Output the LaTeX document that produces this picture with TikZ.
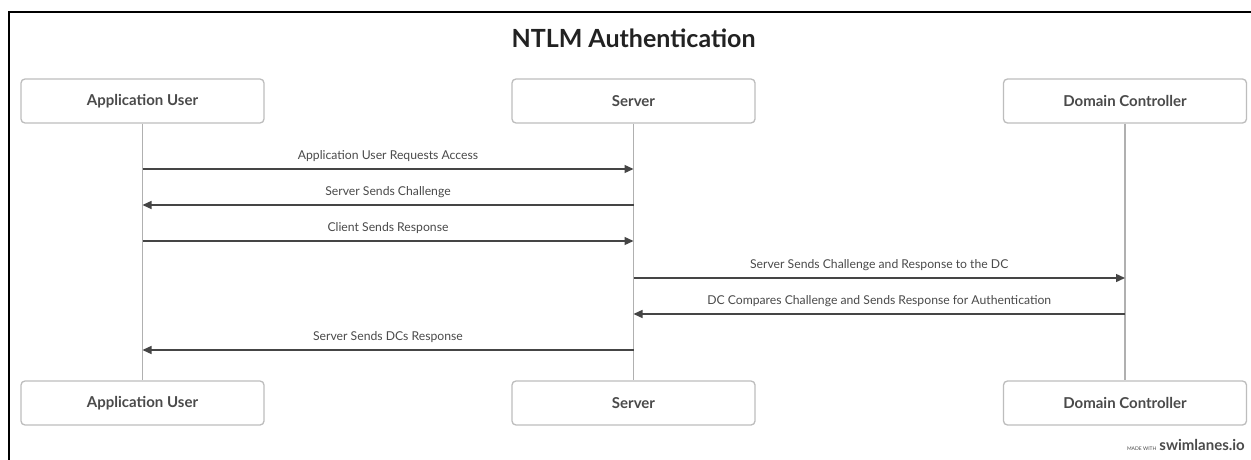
\documentclass[tikz,border=0pt]{standalone}
\usepackage{fontspec}
\setmainfont{Lato}
\usetikzlibrary{arrows.meta}
\definecolor{boxline}{HTML}{BDBDBD}
\definecolor{lifeline}{HTML}{B0B0B0}
\definecolor{msgcol}{HTML}{454545}
\definecolor{txt}{HTML}{4A4A4A}
\definecolor{titlecol}{HTML}{222222}
\tikzset{
  actor/.style={draw=boxline, line width=1.3pt, rounded corners=4pt, minimum width=243pt, minimum height=44pt, fill=white, text=txt, font=\bfseries\fontsize{15}{17}\selectfont},
  life/.style={draw=lifeline, line width=1.2pt},
  msg/.style={draw=msgcol, line width=1.4pt, -{Triangle[length=9pt,width=8pt]}},
  lbl/.style={text=txt, font=\fontsize{12.2}{14}\selectfont, anchor=base},
}
\begin{document}
\begin{tikzpicture}[x=1pt,y=-1pt]
\useasboundingbox (0,0) rectangle (1251,460);
\fill[white] (0,0) rectangle (1251,460);
\draw[black, line width=1.8pt] (9,460) -- (9,12) -- (1251,12);
% actors
\node[actor] (auT) at (142.5,101) {Application User};
\node[actor] (svT) at (633.5,101) {Server};
\node[actor] (dcT) at (1125,101) {Domain Controller};
\node[actor] (auB) at (142.5,403) {Application User};
\node[actor] (svB) at (633.5,403) {Server};
\node[actor] (dcB) at (1125,403) {Domain Controller};
\node[font=\bfseries\fontsize{25}{29}\selectfont, text=titlecol, anchor=base] (title) at (svT.center |- 0,48) {NTLM Authentication};
% lifelines
\draw[life] (auT.south) -- (auB.north);
\draw[life] (svT.south) -- (svB.north);
\draw[life] (dcT.south) -- (dcB.north);
% messages
\draw[msg] (auT.south |- 0,169) -- node[lbl, above=3pt] (m1) {Application User Requests Access} (svT.south |- 0,169);
\draw[msg] (svT.south |- 0,205) -- node[lbl, above=3pt] (m2) {Server Sends Challenge} (auT.south |- 0,205);
\draw[msg] (auT.south |- 0,241) -- node[lbl, above=3pt] (m3) {Client Sends Response} (svT.south |- 0,241);
\draw[msg] (svT.south |- 0,278) -- node[lbl, above=3pt] (m4) {Server Sends Challenge and Response to the DC} (dcT.south |- 0,278);
\draw[msg] (dcT.south |- 0,314) -- node[lbl, above=3pt] (m5) {DC Compares Challenge and Sends Response for Authentication} (svT.south |- 0,314);
\draw[msg] (svT.south |- 0,350) -- node[lbl, above=3pt] (m6) {Server Sends DCs Response} (auT.south |- 0,350);
% footer
\node[anchor=base east, inner sep=0pt, text=txt] (foot) at (1245,450) {{\fontsize{5}{6}\selectfont MADE WITH}\hspace{3pt}{\bfseries\fontsize{15}{17}\selectfont swimlanes.io}};
\end{tikzpicture}
\end{document}
